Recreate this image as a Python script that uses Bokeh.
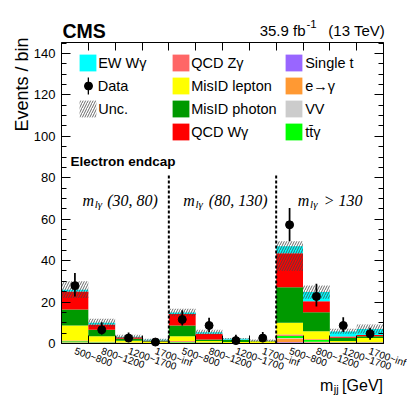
import math
from bokeh.plotting import figure
from bokeh.models import (Range1d, LinearAxis, FixedTicker, Label, Legend, LegendItem,
                          ColumnDataSource)
from bokeh.embed import file_html
from bokeh.resources import INLINE

# ---------------- data ----------------
bin_labels = ["500~800", "800~1200", "1200~1700", "1700~inf"]
mlg_ranges = ["(30, 80)", "(80, 130)", "> 130"]

single_t     = [0.30, 0.20, 0.10, 0.05, 0.20, 0.10, 0.05, 0.05, 0.60, 0.50, 0.30, 0.40]
e_to_gamma   = [0.20, 0.10, 0.05, 0.03, 0.20, 0.05, 0.03, 0.02, 1.80, 0.30, 0.10, 0.05]
vv           = [0.10, 0.05, 0.02, 0.01, 0.05, 0.02, 0.01, 0.01, 0.20, 0.10, 0.05, 0.02]
ttgamma      = [0.50, 0.30, 0.20, 0.10, 0.40, 0.30, 0.10, 0.10, 1.10, 0.80, 0.20, 0.15]
qcd_zgamma   = [0.30, 0.20, 0.10, 0.05, 0.30, 0.10, 0.05, 0.05, 0.60, 0.30, 0.10, 0.08]
misid_lepton = [7.30, 2.65, 0.90, 0.50, 2.35, 0.60, 0.50, 0.80, 5.70, 3.90, 0.50, 1.90]
misid_photon = [7.70, 3.10, 0.90, 0.30, 5.20, 0.80, 1.00, 0.20, 17.2, 9.20, 1.50, 0.90]
qcd_wgamma   = [8.70, 2.60, 0.70, 0.40, 5.60, 2.70, 0.10, 0.05, 16.4, 5.30, 0.60, 0.60]
ew_wgamma    = [0.90, 0.80, 0.30, 0.40, 0.70, 0.80, 0.40, 0.20, 3.30, 4.40, 2.50, 2.90]

data_val = [27.9, 6.6, 2.6, 0.7, 11.6, 8.7, 1.4, 2.6, 57.3, 22.7, 8.7, 4.7]
data_lo  = [22.7, 4.3, 1.0, 0.0, 8.7, 5.5, 0.0, 0.7, 49.3, 17.9, 5.5, 1.8]
data_hi  = [34.0, 10.3, 5.3, 2.2, 16.0, 12.4, 4.2, 5.5, 65.4, 28.8, 12.7, 7.6]

unc_lo = [22.0, 8.1, 2.4, 1.3, 13.2, 4.4, 2.0, 0.9, 35.0, 21.6, 4.7, 4.8]
unc_hi = [30.0, 11.9, 4.2, 2.3, 16.8, 6.6, 2.6, 1.9, 49.3, 28.0, 7.1, 9.2]

y_max = 145.3
y_major = list(range(0, 141, 20))
y_minor = list(range(0, 146, 5))
sep_top = 82.0

# ---------------- derived ----------------
n_per = len(bin_labels)
n_bins = n_per * len(mlg_ranges)
centers = [i + 0.5 for i in range(n_bins)]
edges = list(range(n_bins + 1))
tick_text = bin_labels * len(mlg_ranges)
separators = [n_per * k for k in range(1, len(mlg_ranges))]

layers = [
    ("Single t", single_t, "#9966ff"),
    ("e\u2192\u03b3", e_to_gamma, "#ff9933"),
    ("VV", vv, "#cccccc"),
    ("t\u0074\u0304\u03b3", ttgamma, "#00ff00"),
    ("QCD Z\u03b3", qcd_zgamma, "#ff6666"),
    ("MisID lepton", misid_lepton, "#ffff00"),
    ("MisID photon", misid_photon, "#009900"),
    ("QCD W\u03b3", qcd_wgamma, "#ff0000"),
    ("EW W\u03b3", ew_wgamma, "#00ffff"),
]

# canvas = frame; the histogram box sits inside it (page pixels)
W, H = 407, 395
BOX_L, BOX_R, BOX_T, BOX_B = 61, 383, 42, 343
xs = (BOX_R - BOX_L) / n_bins
ys = (BOX_B - BOX_T) / y_max
x_range = Range1d(-BOX_L / xs, n_bins + (W - BOX_R) / xs)
y_range = Range1d(-(H - BOX_B) / ys, y_max + BOX_T / ys)

FONT = "Liberation Sans"

p = figure(width=W, height=H, x_range=x_range, y_range=y_range,
           output_backend="svg", toolbar_location=None,
           x_axis_location=None, y_axis_location=None,
           min_border_left=0, min_border_right=0, min_border_top=0, min_border_bottom=0)
p.background_fill_color = "white"
p.border_fill_color = "white"
p.grid.visible = False
p.outline_line_color = None

# ---------------- stacked histogram ----------------
src = {"x": centers}
keys = []
for i, (name, vals, col) in enumerate(layers):
    k = f"l{i}"
    src[k] = vals
    keys.append(k)
source = ColumnDataSource(src)
stack_r = p.vbar_stack(keys, x="x", width=1.0, source=source,
                       fill_color=[c for _, _, c in layers], line_color=None)
rmap = {name: r for (name, _, _), r in zip(layers, stack_r)}

unc_r = p.quad(left=edges[:-1], right=edges[1:], bottom=unc_lo, top=unc_hi,
               fill_color=None, line_color=None, hatch_pattern="/",
               hatch_color="#444444", hatch_scale=5, hatch_weight=0.8)

p.segment(x0=separators, y0=[0] * len(separators), x1=separators, y1=[sep_top] * len(separators),
          line_color="black", line_width=2, line_dash="3 2")

err_r = p.vbar(x=centers, width=0.065, bottom=data_lo, top=data_hi,
               fill_color="black", line_color=None)
pt_r = p.scatter(x=centers, y=data_val, size=8, marker="circle",
                 fill_color="black", line_color="black")

# ---------------- axes (fixed on the histogram box) ----------------
xa = LinearAxis(fixed_location=0, bounds=(0, n_bins),
                ticker=FixedTicker(ticks=centers, minor_ticks=edges),
                major_label_overrides={c: t for c, t in zip(centers, tick_text)},
                major_tick_in=0, major_tick_out=0, minor_tick_in=8, minor_tick_out=0,
                major_label_orientation=-0.33, major_label_standoff=7,
                major_label_text_font=FONT, major_label_text_font_size="10px",
                major_label_text_color="black", axis_line_color="black")
p.add_layout(xa, "below")

ta = LinearAxis(fixed_location=y_max, bounds=(0, n_bins),
                ticker=FixedTicker(ticks=edges, minor_ticks=[]),
                major_tick_in=8, major_tick_out=0, minor_tick_in=0, minor_tick_out=0,
                major_label_text_color=None, axis_line_color="black")
p.add_layout(ta, "above")

ya = LinearAxis(fixed_location=0, bounds=(0, y_max),
                ticker=FixedTicker(ticks=y_major, minor_ticks=y_minor),
                major_tick_in=9, major_tick_out=0, minor_tick_in=5, minor_tick_out=0,
                major_label_standoff=6, major_label_text_font=FONT,
                major_label_text_font_size="13px", major_label_text_color="black",
                axis_line_color="black")
p.add_layout(ya, "left")

ra = LinearAxis(fixed_location=n_bins, bounds=(0, y_max),
                ticker=FixedTicker(ticks=y_major, minor_ticks=y_minor),
                major_tick_in=9, major_tick_out=0, minor_tick_in=5, minor_tick_out=0,
                major_label_text_color=None, axis_line_color="black")
p.add_layout(ra, "right")

# ---------------- legends ----------------
def add_legend(items, x_page, row_center, nrows=1, gw=21, gh=21, spacing=2, standoff=0):
    bottom_page = row_center + gh / 2 + (nrows - 1) * (gh + spacing)
    lg = Legend(items=items, location=(x_page, H - bottom_page), orientation="vertical",
                glyph_width=gw, glyph_height=gh, label_height=gh, label_width=10,
                spacing=spacing, padding=0, margin=0, border_line_color=None,
                background_fill_alpha=0, label_text_font=FONT,
                label_text_font_size="14.5px", label_text_color="black",
                label_standoff=standoff)
    p.add_layout(lg, "center")

add_legend([LegendItem(label="EW W\u03b3", renderers=[rmap["EW W\u03b3"]])], 77.2, 62.8)
add_legend([LegendItem(label="Data", renderers=[err_r])], 86.7, 85.8, gw=2, standoff=9)
add_legend([LegendItem(label=" ", renderers=[pt_r])], 77.7, 85.8, gw=20)
add_legend([LegendItem(label="Unc.", renderers=[unc_r])], 77.2, 108.8)

col2 = ["QCD Z\u03b3", "MisID lepton", "MisID photon", "QCD W\u03b3"]
col3 = ["Single t", "e\u2192\u03b3", "VV", "t\u0074\u0304\u03b3"]
add_legend([LegendItem(label=n, renderers=[rmap[n]]) for n in col2], 170.2, 62.8, nrows=4)
add_legend([LegendItem(label=n, renderers=[rmap[n]]) for n in col3], 283.2, 62.8, nrows=4, standoff=1)

# ---------------- texts ----------------
def txt(text, x_page, y_page, size, font=FONT, style="normal", align="left", angle=0.0):
    p.add_layout(Label(x=x_page, y=H - y_page, x_units="screen", y_units="screen",
                       text=text, text_font=font, text_font_size=f"{size}px",
                       text_font_style=style, text_align=align, text_baseline="alphabetic",
                       text_color="black", angle=angle))

txt("CMS", 62, 30, 19.5, style="bold")
txt("35.9 fb", 305, 30, 15, align="right")
txt("-1", 306, 23.5, 11.5)
txt("(13 TeV)", 384.5, 30, 15, align="right")

txt("Events / bin", 21, 37, 18, align="right", angle=math.pi / 2)

txt("m", 319.5, 385, 16)
txt("jj", 333.3, 388.5, 11)
txt("[GeV]", 382.5, 385, 16, align="right")

txt("Electron endcap", 70, 161, 13.5, style="bold")

serif = "Liberation Serif"
for (mx, rx), rng in zip([(82, 106.7), (182.7, 208.3), (297.3, 323.3)], mlg_ranges):
    txt("m", mx, 200, 16, font=serif, style="italic")
    txt("l\u03b3", mx + 12.3, 203.5, 11, font=serif, style="italic")
    txt(rng, rx, 200, 16, font=serif, style="italic")

open("out.html", "w").write(file_html(p, INLINE))
